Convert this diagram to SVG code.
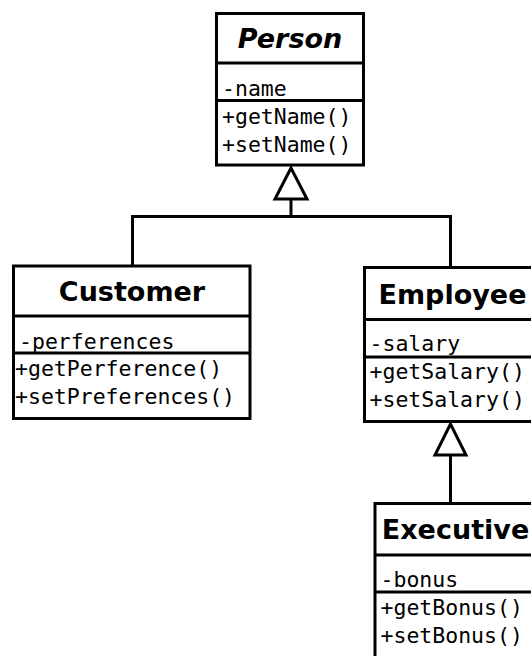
<svg xmlns="http://www.w3.org/2000/svg" width="531" height="656" viewBox="0 0 531 656">
  <style>
    .box { fill: #ffffff; stroke: #000000; stroke-width: 3; }
    .sep { stroke: #000000; stroke-width: 3; fill: none; }
    .title { font-family: "DejaVu Sans", "Liberation Sans", sans-serif; font-weight: bold; font-size: 27px; text-anchor: middle; fill: #000000; }
    .abstract { font-style: italic; }
    .member { font-family: "DejaVu Sans Mono", "Liberation Mono", monospace; font-size: 21.5px; fill: #000000; }
    .edge { stroke: #000000; stroke-width: 3; fill: none; }
    .head { stroke: #000000; stroke-width: 3; fill: #ffffff; stroke-linejoin: miter; }
  </style>

  <rect width="531" height="656" fill="#ffffff"/>

  <!-- inheritance connectors -->
  <g id="connectors">
    <polyline class="edge" points="132.5,266 132.5,216.5 450.5,216.5 450.5,267.5"/>
    <line class="edge" x1="291" y1="199" x2="291" y2="216.5"/>
    <polygon class="head" points="291,168 275,199 307,199"/>
    <line class="edge" x1="450.5" y1="455" x2="450.5" y2="503.5"/>
    <polygon class="head" points="450.5,424 435,455 466,455"/>
  </g>

  <!-- abstract base class -->
  <g id="person">
    <rect class="box" x="216.5" y="13.5" width="147" height="151.5"/>
    <line class="sep" x1="216.5" y1="63" x2="363.5" y2="63"/>
    <line class="sep" x1="216.5" y1="100.5" x2="363.5" y2="100.5"/>
    <text class="title abstract" x="290" y="47.5">Person</text>
    <text class="member" x="222" y="96">-name</text>
    <text class="member" x="222" y="123.5">+getName()</text>
    <text class="member" x="222" y="151.5">+setName()</text>
  </g>

  <g id="customer">
    <rect class="box" x="13.5" y="266" width="236.5" height="152.5"/>
    <line class="sep" x1="13.5" y1="316" x2="250" y2="316"/>
    <line class="sep" x1="13.5" y1="353" x2="250" y2="353"/>
    <text class="title" x="132" y="300.5">Customer</text>
    <text class="member" x="19" y="348.5">-perferences</text>
    <text class="member" x="15" y="375.5">+getPerference()</text>
    <text class="member" x="15" y="403.5">+setPreferences()</text>
  </g>

  <g id="employee">
    <rect class="box" x="364.5" y="267.5" width="176" height="154"/>
    <line class="sep" x1="364.5" y1="319.5" x2="540.5" y2="319.5"/>
    <line class="sep" x1="364.5" y1="357" x2="540.5" y2="357"/>
    <text class="title" x="452.5" y="303.5">Employee</text>
    <text class="member" x="369.5" y="351">-salary</text>
    <text class="member" x="369.5" y="379">+getSalary()</text>
    <text class="member" x="369.5" y="407">+setSalary()</text>
  </g>

  <g id="executive">
    <rect class="box" x="375" y="503.5" width="170" height="154"/>
    <line class="sep" x1="375" y1="555" x2="545" y2="555"/>
    <line class="sep" x1="375" y1="592" x2="545" y2="592"/>
    <text class="title" x="455.5" y="538.5">Executive</text>
    <text class="member" x="380.5" y="587">-bonus</text>
    <text class="member" x="380.5" y="614.5">+getBonus()</text>
    <text class="member" x="380.5" y="642.5">+setBonus()</text>
  </g>
</svg>
